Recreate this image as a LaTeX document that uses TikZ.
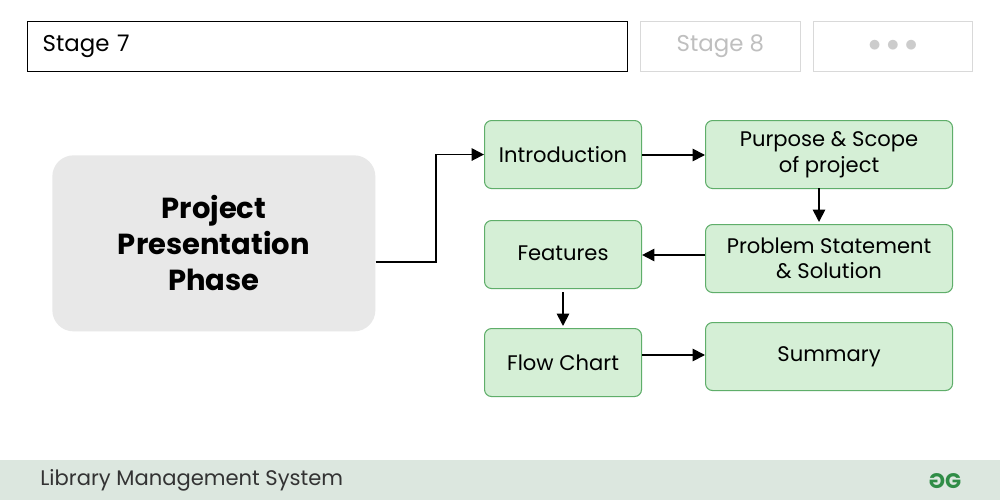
\documentclass[tikz,border=0pt]{standalone}
\usepackage{fontspec}
\setmainfont{Poppins}
\usetikzlibrary{arrows.meta}
\definecolor{gfill}{HTML}{D5EFD6}
\definecolor{gdraw}{HTML}{5FAE6A}
\definecolor{pgray}{HTML}{E8E8E8}
\definecolor{foot}{HTML}{DCE7DF}
\definecolor{logo}{HTML}{2F8D46}
\begin{document}
\begin{tikzpicture}[x=0.02cm,y=-0.02cm,
 gbox/.style={draw=gdraw,fill=gfill,rounded corners=4pt,line width=0.6pt,align=center,font=\fontsize{12}{14.5}\selectfont,minimum height=68*0.02cm,inner sep=0,anchor=north west},
 arr/.style={-{Triangle[length=7pt,width=7pt]},line width=1pt}]
\useasboundingbox (0,0) rectangle (1000,500);
\fill[white] (0,0) rectangle (1000,500);
\node[draw,line width=0.8pt,minimum width=600*0.02cm,minimum height=50*0.02cm,inner sep=0,anchor=north west,text width=570*0.02cm,font=\fontsize{13}{15}\selectfont] (s7) at (27,21) {Stage 7};
\node[draw=gray!30,minimum width=160*0.02cm,minimum height=50*0.02cm,inner sep=0,anchor=north west,text=gray!50,font=\fontsize{13}{15}\selectfont] (s8) at (640,21) {Stage 8};
\node[draw=gray!30,minimum width=159*0.02cm,minimum height=50*0.02cm,inner sep=0,anchor=north west,text=gray!40,font=\fontsize{15}{15}\selectfont] (dots) at (813,21) {$\bullet\bullet\bullet$};
\node[fill=pgray,rounded corners=12pt,minimum width=323*0.02cm,minimum height=176*0.02cm,inner sep=0,anchor=north west,align=center,font=\bfseries\fontsize{16.5}{20.5}\selectfont] (pp) at (52,155) {Project\\Presentation\\Phase};
\node[gbox,minimum width=157*0.02cm] (intro) at (484,120) {Introduction};
\node[gbox,minimum width=247*0.02cm] (purp) at (705,120) {Purpose \& Scope\\of project};
\node[gbox,minimum width=247*0.02cm] (prob) at (705,224) {Problem Statement\\\& Solution};
\node[gbox,minimum width=157*0.02cm] (feat) at (484,220) {\raisebox{2pt}{Features}};
\node[gbox,minimum width=157*0.02cm] (flow) at (484,328) {Flow Chart};
\node[gbox,minimum width=247*0.02cm] (summ) at (705,322) {\raisebox{2pt}{Summary}};
\coordinate (c1) at (436,262);
\draw[arr] (pp.east |- c1) -- (c1) |- (intro.west);
\draw[arr] (intro.east |- 0,155) -- (purp.west |- 0,155);
\draw[arr] (819,188) -- (819,222);
\draw[arr] (prob.west |- 0,255) -- (feat.east |- 0,255);
\draw[arr] (563,292) -- (563,326);
\draw[arr] (flow.east |- 0,355) -- (summ.west |- 0,355);
\fill[foot] (0,460) rectangle (1000,500);
\node[anchor=west,font=\fontsize{12}{13}\selectfont,text=black!80,inner sep=0] (ft) at (40,480) {Library Management System};
\node[text=logo,font=\bfseries\fontsize{12}{13}\selectfont,inner sep=0] (lg) at (945,481) {\scalebox{-1}[1]{G}G};
\end{tikzpicture}
\end{document}
